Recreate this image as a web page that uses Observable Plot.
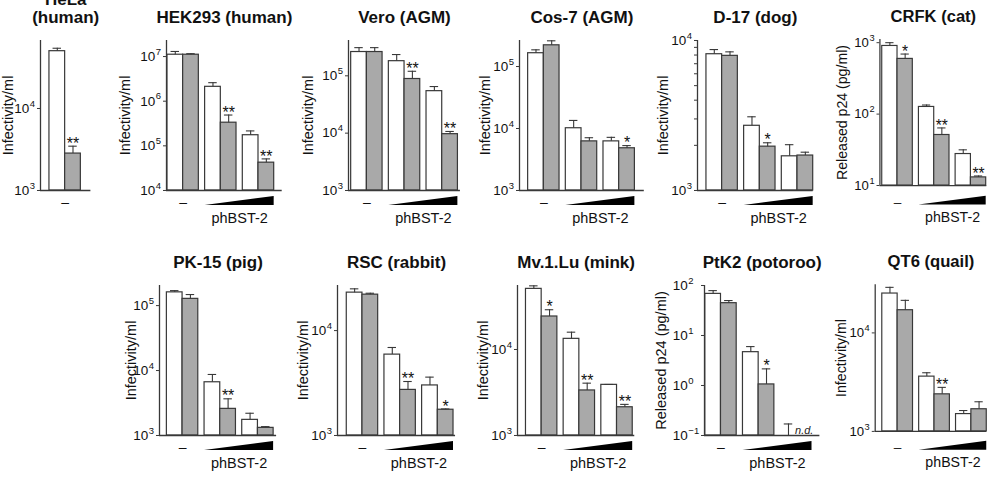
<!DOCTYPE html>
<html>
<head>
<meta charset="utf-8">
<script src="https://cdn.jsdelivr.net/npm/d3@7"></script>
<script src="https://cdn.jsdelivr.net/npm/@observablehq/plot@0.6"></script>
<style>
  html, body { margin: 0; padding: 0; background: #fff; }
  #fig { position: relative; width: 998px; height: 478px; overflow: hidden; background: #fff;
         font-family: "Liberation Sans", Arial, Helvetica, sans-serif; color: #111; }
  #fig > div { position: absolute; }
  #fig svg { display: block; }
</style>
</head>
<body>
<div id="fig"></div>
<script>
// Cell lines, one panel each (first row: 6 panels, second row: 5 panels)
const cellLines = ["HeLa\n(human)", "HEK293 (human)", "Vero (AGM)", "Cos-7 (AGM)", "D-17 (dog)", "CRFK (cat)",
                   "PK-15 (pig)", "RSC (rabbit)", "Mv.1.Lu (mink)", "PtK2 (potoroo)", "QT6 (quail)"];
const yLabels = ["Infectivity/ml", "Infectivity/ml", "Infectivity/ml", "Infectivity/ml", "Infectivity/ml",
                 "Released p24 (pg/ml)", "Infectivity/ml", "Infectivity/ml", "Infectivity/ml",
                 "Released p24 (pg/ml)", "Infectivity/ml"];

// Log axis extents and labelled ticks
const yMin = [1e3, 1e4, 1e3, 1e3, 1e3, 10, 1e3, 1e3, 1e3, 0.1, 1e3];
const yMax = [6.75e4, 2.29e7, 4.13e5, 2.63e5, 1e4, 1.11e3, 2.04e5, 2.69e4, 5.55e4, 100, 3.09e4];
const yTicks = [[1e3, 1e4], [1e4, 1e5, 1e6, 1e7], [1e3, 1e4, 1e5], [1e3, 1e4, 1e5], [1e3, 1e4],
                [10, 100, 1000], [1e3, 1e4, 1e5], [1e3, 1e4], [1e3, 1e4], [0.1, 1, 10, 100], [1e3, 1e4]];
const yMinorTicks = [[], [], [], [], [2e3, 3e3, 4e3, 5e3, 6e3, 7e3, 8e3, 9e3], [], [], [], [], [], []];

// Open bars: mean and top of error bar, per dose (none, low, high)
const whiteMean  = [[5.0e4], [1.1e7, 2.1e6, 1.73e5], [2.6e5, 1.8e5, 5.4e4], [1.64e5, 1.01e4, 6.2e3],
                    [8.1e3, 2.7e3, 1.69e3], [900, 126, 27.6], [1.6e5, 6.6e3, 1.74e3], [2.3e4, 5.9e3, 3.0e3],
                    [5.07e4, 1.33e4, 3.88e3], [68, 4.64, 0.1], [2.51e4, 3.6e3, 1.5e3]];
const whiteUpper = [[5.43e4], [1.3e7, 2.6e6, 2.16e5], [3.1e5, 2.35e5, 6.5e4], [1.86e5, 1.35e4, 7.2e3],
                    [8.7e3, 3.1e3, 2.02e3], [1000, 134, 31.6], [1.7e5, 8.7e3, 2.2e3], [2.5e4, 6.9e3, 3.6e3],
                    [5.5e4, 1.59e4, 3.92e3], [79, 6.0, 0.17], [2.9e4, 3.94e3, 1.63e3]];
// Grey bars: mean, top of error bar and significance marks (null = not detected)
const greyMean   = [[2.82e3], [1.1e7, 3.3e5, 4.2e4], [2.6e5, 8.8e4, 9.6e3], [2.2e5, 6.2e3, 4.8e3],
                    [7.9e3, 1.96e3, 1.71e3], [593, 51, 13], [1.27e5, 2.57e3, 1.31e3], [2.2e4, 2.72e3, 1.76e3],
                    [2.42e4, 3.34e3, 2.13e3], [44.3, 1.05, null], [1.7e4, 2.38e3, 1.68e3]];
const greyUpper  = [[3.47e3], [1.16e7, 4.9e5, 5.1e4], [3.1e5, 1.2e5, 1.07e4], [2.6e5, 7.1e3, 5.3e3],
                    [8.4e3, 2.08e3, 1.8e3], [693, 64, 13.6], [1.48e5, 3.67e3, 1.37e3], [2.27e4, 3.27e3, 1.79e3],
                    [2.9e4, 4.06e3, 2.3e3], [50, 2.15, null], [2.14e4, 2.8e3, 2.0e3]];
const greyStars  = [["**"], ["", "**", "**"], ["", "**", "**"], ["", "", "*"], ["", "*", ""], ["*", "**", "**"],
                    ["", "**", ""], ["", "**", "*"], ["*", "**", "**"], ["", "*", ""], ["", "**", ""]];

const noDoseLabel = "–";
const doseLabel = "phBST-2";
const notDetected = "n.d.";

// Panel placement: y-axis x position, row, space before first / after last bar (bar widths), y-label offset
const layout = [
  {ax: 40,    row: 0, lead: 0.57, trail: 0.64, labelGap: 32},
  {ax: 166,   row: 0, lead: 0.06, trail: 0.51, labelGap: 41},
  {ax: 348,   row: 0, lead: 0.17, trail: 0.16, labelGap: 40},
  {ax: 519,   row: 0, lead: 0.55, trail: 0.60, labelGap: 34},
  {ax: 696.7, row: 0, lead: 0.57, trail: 0.00, labelGap: 34},
  {ax: 881,   row: 0, lead: 0.15, trail: 0.04, labelGap: 38},
  {ax: 159.3, row: 1, lead: 0.47, trail: 0.19, labelGap: 28},
  {ax: 336.7, row: 1, lead: 0.59, trail: 0.13, labelGap: 34},
  {ax: 517.3, row: 1, lead: 0.54, trail: 0.13, labelGap: 34},
  {ax: 704.3, row: 1, lead: 0.05, trail: 0.50, labelGap: 43},
  {ax: 876,   row: 1, lead: 0.46, trail: 0.00, labelGap: 34}
];
const ROW_TOP = [0, 245];
const BAR_PX = 15.7;     // width of one bar
const GAP = 0.4;         // gap between dose groups, in bar widths
const FRAME_TOP = 40, FRAME_H = 150, ML = 60, MR = 12;
const STROKE = "#383838", GREY = "#a9a9a9", INK = "#111", FONT = "Liberation Sans, Arial, Helvetica, sans-serif";
const TICK_FONT = 13.5, EXP_FONT = 9.5;

// Tick labels are written as "10" followed by a raised exponent
const exponent = v => String(Math.round(Math.log10(v))).replace("-", "−");

function barsFor(p) {
  const L = layout[p];
  const rows = [];
  whiteMean[p].forEach((_, i) => {
    const series = [
      {mean: whiteMean[p][i], upper: whiteUpper[p][i], star: "", grey: false},
      {mean: greyMean[p][i],  upper: greyUpper[p][i],  star: greyStars[p][i], grey: true}
    ];
    series.forEach((s, k) => {
      const x1 = L.lead + i * (2 + GAP) + k;
      rows.push({...s, x1, x2: x1 + 1, xc: x1 + 0.5, dose: i});
    });
  });
  return rows;
}

const fig = document.getElementById("fig");
const style = {background: "none", overflow: "visible", fontFamily: FONT, fontSize: "13.5px", color: INK};

cellLines.forEach((title, p) => {
  const L = layout[p];
  const lo = yMin[p], hi = yMax[p];
  const bars = barsFor(p);
  const nDoses = whiteMean[p].length;
  const span = L.lead + nDoses * 2 + (nDoses - 1) * GAP + L.trail;
  const width = ML + span * BAR_PX + MR;
  const measured = bars.filter(d => d.mean != null);
  const titleLines = title.split("\n");
  const expWidth = Math.max(...yTicks[p].map(v => exponent(v).length)) * EXP_FONT * 0.56;

  const main = Plot.plot({
    width, height: FRAME_TOP + FRAME_H + 4,
    marginLeft: ML, marginRight: MR, marginTop: FRAME_TOP, marginBottom: 4,
    style,
    x: {type: "linear", domain: [0, span], axis: null},
    y: {type: "log", domain: [lo, hi], axis: null},
    marks: [
      Plot.rect(measured.filter(d => !d.grey), {x1: "x1", x2: "x2", y1: () => lo, y2: "mean", fill: "#fff", stroke: STROKE, strokeWidth: 1.2}),
      Plot.rect(measured.filter(d => d.grey), {x1: "x1", x2: "x2", y1: () => lo, y2: "mean", fill: GREY, stroke: STROKE, strokeWidth: 1.2}),
      Plot.ruleX(measured, {x: "xc", y1: "mean", y2: "upper", stroke: STROKE, strokeWidth: 1.1}),
      Plot.ruleY(measured, {y: "upper", x1: d => d.xc - 0.27, x2: d => d.xc + 0.27, stroke: STROKE, strokeWidth: 1.1}),
      Plot.text(measured.filter(d => d.star), {x: "xc", y: "upper", text: "star", dy: -2.5, lineAnchor: "middle", fontSize: 16, fill: INK}),
      Plot.text(bars.filter(d => d.mean == null), {x: "xc", frameAnchor: "bottom", dy: -5, lineAnchor: "middle", text: () => notDetected,
                                                   fontStyle: "italic", fontSize: 11, fill: "#222"}),
      Plot.ruleX([0], {stroke: STROKE, strokeWidth: 1.3}),
      Plot.ruleY([lo], {stroke: STROKE, strokeWidth: 1.3}),
      Plot.axisY({ticks: yTicks[p], tickFormat: () => "", tickSize: 3, label: null, stroke: STROKE}),
      Plot.axisY({ticks: yMinorTicks[p], tickFormat: () => "", tickSize: 3, label: null, stroke: STROKE}),
      Plot.text(yTicks[p], {y: d => d, text: () => "10", frameAnchor: "left", textAnchor: "end", lineAnchor: "middle",
                            dx: -(6 + expWidth), fontSize: TICK_FONT, fill: INK}),
      Plot.text(yTicks[p], {y: d => d, text: exponent, frameAnchor: "left", textAnchor: "start", lineAnchor: "middle",
                            dx: -(5.5 + expWidth), dy: -5, fontSize: EXP_FONT, fill: INK}),
      Plot.text([yLabels[p]], {text: d => d, frameAnchor: "left", textAnchor: "middle", lineAnchor: "middle", rotate: -90,
                               dx: -L.labelGap, fontSize: 14.5, fill: INK}),
      ...titleLines.map((t, k) => Plot.text([t], {text: d => d, frameAnchor: "top", textAnchor: "middle",
                                                   dy: -23 - 18 * (titleLines.length - 1 - k),
                                                   lineAnchor: "middle", fontSize: 17, fontWeight: "bold", fill: INK}))
    ]
  });

  // Dose annotation under the x axis: "–" for no plasmid, wedge for increasing phBST-2
  const wedgeStart = L.lead + 2 + GAP, wedgeEnd = L.lead + nDoses * 2 + (nDoses - 1) * GAP;
  const footMarks = [
    Plot.text([noDoseLabel], {text: d => d, x: () => L.lead + 1, frameAnchor: "top", lineAnchor: "middle", dy: 6.5, fontSize: 14, fill: INK})
  ];
  if (nDoses > 1) {
    footMarks.push(
      Plot.areaY([{x: wedgeStart, t: 0}, {x: wedgeEnd, t: 1}], {x: "x", y1: () => 0, y2: "t", fill: "#000"}),
      Plot.text([doseLabel], {text: d => d, x: () => (wedgeStart + wedgeEnd) / 2, frameAnchor: "bottom", lineAnchor: "middle",
                              dy: 13, fontSize: 14.5, fill: INK})
    );
  }
  const foot = Plot.plot({
    width, height: 40, marginLeft: ML, marginRight: MR, marginTop: 6, marginBottom: 25,
    style,
    x: {type: "linear", domain: [0, span], axis: null},
    y: {domain: [0, 1], axis: null},
    marks: footMarks
  });

  const top = ROW_TOP[L.row];
  const a = document.createElement("div");
  a.style.left = (L.ax - ML) + "px"; a.style.top = top + "px";
  a.appendChild(main);
  const b = document.createElement("div");
  b.style.left = (L.ax - ML) + "px"; b.style.top = (top + FRAME_TOP + FRAME_H) + "px";
  b.appendChild(foot);
  fig.appendChild(a);
  fig.appendChild(b);
});
</script>
</body>
</html>
